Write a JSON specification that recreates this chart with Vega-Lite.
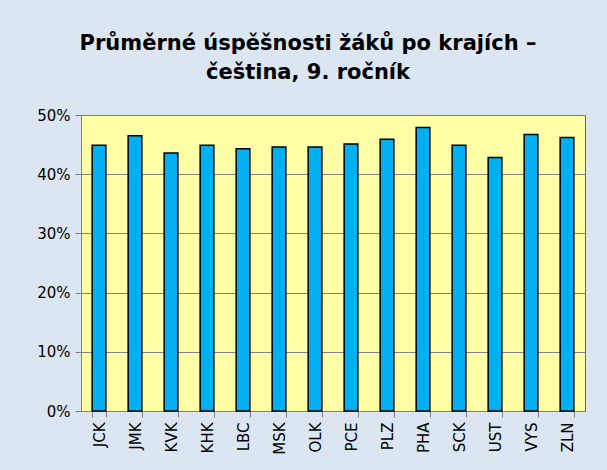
{
  "$schema": "https://vega.github.io/schema/vega-lite/v6.json",
  "autosize": {"type": "none"},
  "width": 504,
  "height": 296,
  "padding": {"left": 81, "top": 115, "right": 22, "bottom": 59},
  "background": "#dce6f2",
  "title": {
    "text": ["Průměrné úspěšnosti žáků po krajích –", "čeština, 9. ročník"],
    "font": "DejaVu Sans",
    "fontSize": 21,
    "fontWeight": "bold",
    "color": "#000000",
    "anchor": "middle",
    "dx": -25,
    "offset": 25,
    "lineHeight": 29
  },
  "data": {
    "values": [
      {"kraj": "JCK", "v": 0.449},
      {"kraj": "JMK", "v": 0.465},
      {"kraj": "KVK", "v": 0.436},
      {"kraj": "KHK", "v": 0.449},
      {"kraj": "LBC", "v": 0.443},
      {"kraj": "MSK", "v": 0.446},
      {"kraj": "OLK", "v": 0.446},
      {"kraj": "PCE", "v": 0.451},
      {"kraj": "PLZ", "v": 0.459},
      {"kraj": "PHA", "v": 0.479},
      {"kraj": "SCK", "v": 0.449},
      {"kraj": "UST", "v": 0.428},
      {"kraj": "VYS", "v": 0.467},
      {"kraj": "ZLN", "v": 0.462}
    ]
  },
  "mark": {"type": "bar", "fill": "#00b0f0", "stroke": "#000000", "strokeWidth": 1.5},
  "encoding": {
    "x": {
      "field": "kraj",
      "type": "nominal",
      "sort": null,
      "title": null,
      "scale": {"paddingInner": 0.62, "paddingOuter": 0.31},
      "axis": {
        "labelAngle": -90,
        "labelFont": "DejaVu Sans",
        "labelFontSize": 15,
        "labelColor": "#000000",
        "labelPadding": 5,
        "tickBand": "extent",
        "tickSize": 6,
        "tickColor": "#808080",
        "domainColor": "#808080",
        "grid": false
      }
    },
    "y": {
      "field": "v",
      "type": "quantitative",
      "title": null,
      "scale": {"domain": [0, 0.5], "nice": false},
      "axis": {
        "values": [0, 0.1, 0.2, 0.3, 0.4, 0.5],
        "format": ".0%",
        "labelFont": "DejaVu Sans",
        "labelFontSize": 15,
        "labelColor": "#000000",
        "labelPadding": 5,
        "tickSize": 6,
        "tickColor": "#808080",
        "domainColor": "#808080",
        "gridColor": "#808080",
        "gridOpacity": 1
      }
    }
  },
  "config": {
    "view": {"fill": "#ffffa6", "stroke": "#666666", "strokeWidth": 1}
  }
}
